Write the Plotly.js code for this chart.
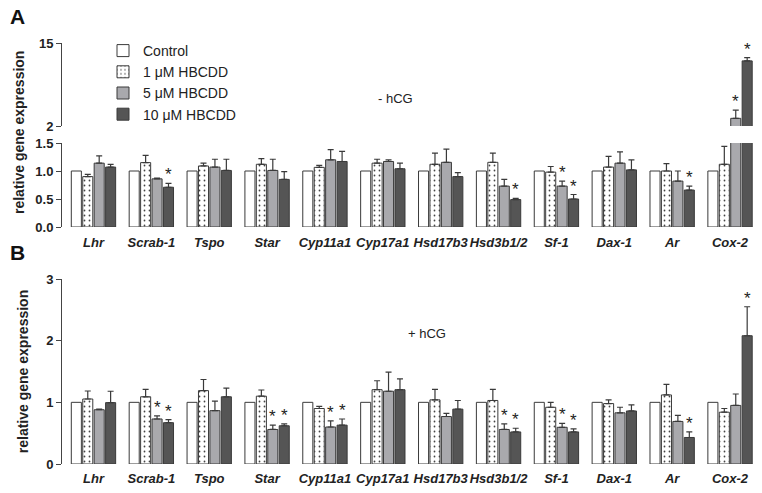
<!DOCTYPE html>
<html>
<head>
<meta charset="utf-8">
<script src="https://cdn.plot.ly/plotly-3.0.1.min.js"></script>
<style>html,body{margin:0;padding:0;background:#fff;}#chart{width:762px;height:493px;}</style>
</head>
<body>
<div id="chart"></div>
<script>
// ---- data ----
const genes = ['Lhr','Scrab-1','Tspo','Star','Cyp11a1','Cyp17a1','Hsd17b3','Hsd3b1/2','Sf-1','Dax-1','Ar','Cox-2'];
const seriesNames = ['Control','1 \u03bcM HBCDD','5 \u03bcM HBCDD','10 \u03bcM HBCDD'];

// Panel A: - hCG
const ctrlA   = [1,1,1,1,1,1,1,1,1,1,1,1];
const m1A     = [0.90,1.15,1.09,1.12,1.065,1.14,1.12,1.155,0.98,1.07,1.00,1.12];
const m1Aerr  = [0.04,0.13,0.05,0.10,0.035,0.07,0.20,0.165,0.10,0.19,0.13,0.32];
const m5A     = [1.14,0.86,1.07,1.01,1.20,1.17,1.155,0.73,0.73,1.14,0.82,3.2];
const m5Aerr  = [0.13,0.015,0.14,0.20,0.18,0.03,0.235,0.12,0.09,0.20,0.18,1.3];
const m10A    = [1.07,0.71,1.01,0.85,1.17,1.04,0.90,0.49,0.50,1.02,0.66,12.2];
const m10Aerr = [0.05,0.07,0.20,0.14,0.18,0.10,0.07,0.02,0.08,0.18,0.07,0.5];
const sig5A   = ['Sf-1','Cox-2'];
const sig10A  = ['Scrab-1','Hsd3b1/2','Sf-1','Ar','Cox-2'];

// Panel B: + hCG
const ctrlB   = [1,1,1,1,1,1,1,1,1,1,1,1];
const m1B     = [1.054,1.09,1.19,1.10,0.90,1.205,1.04,1.03,0.92,0.98,1.12,0.84];
const m1Berr  = [0.13,0.12,0.18,0.10,0.035,0.145,0.17,0.18,0.08,0.06,0.17,0.06];
const m5B     = [0.88,0.73,0.865,0.56,0.60,1.18,0.77,0.56,0.595,0.83,0.69,0.95];
const m5Berr  = [0.01,0.05,0.155,0.07,0.10,0.31,0.05,0.09,0.065,0.09,0.10,0.185];
const m10B    = [0.995,0.67,1.09,0.62,0.63,1.205,0.89,0.52,0.52,0.86,0.43,2.08];
const m10Berr = [0.185,0.05,0.14,0.03,0.10,0.175,0.14,0.06,0.05,0.10,0.09,0.47];
const sig5B   = ['Scrab-1','Star','Cyp11a1','Hsd3b1/2','Sf-1'];
const sig10B  = ['Scrab-1','Star','Cyp11a1','Hsd3b1/2','Sf-1','Ar','Cox-2'];

// ---- styling ----
const FONT = 'Liberation Sans, Arial, sans-serif';
const OUT = '#3a3a3a';
const styles = [
  {color:'#ffffff'},
  {color:'#ffffff', pattern:{shape:'.', fgcolor:'#444', bgcolor:'#ffffff', size:5, solidity:0.1}},
  {color:'#a9a9ad'},
  {color:'#555555'}
];
const BARGAP = 0.21, GROUPGAP = 0.12;
const slot = (1 - BARGAP) / 4;

function bars(idx, y, err, xa, ya, showlegend) {
  const marker = Object.assign({line:{color:OUT, width:1}}, styles[idx]);
  const t = {
    type:'bar', name: seriesNames[idx], x: genes, y: y,
    xaxis: xa, yaxis: ya, marker: marker, showlegend: showlegend,
    legendgroup: 'g'+idx, hoverinfo:'skip'
  };
  if (err) {
    t.error_y = {type:'data', array: err, arrayminus: err.map(()=>0), symmetric:false,
                 color:OUT, thickness:1.2, width:3};
  }
  return t;
}

const data = [];
const setsA = [[ctrlA,null],[m1A,m1Aerr],[m5A,m5Aerr],[m10A,m10Aerr]];
const setsB = [[ctrlB,null],[m1B,m1Berr],[m5B,m5Berr],[m10B,m10Berr]];
setsA.forEach((s,i)=>data.push(bars(i, s[0], s[1], 'x', 'y', true)));
setsA.forEach((s,i)=>data.push(bars(i, s[0], s[1], 'x3', 'y3', false)));
setsB.forEach((s,i)=>data.push(bars(i, s[0], s[1], 'x2', 'y2', false)));

// ---- significance stars ----
const annotations = [];
function stars(sig, vals, errs, idx, panel) {
  sig.forEach(g => {
    const k = genes.indexOf(g);
    const top = vals[k] + errs[k];
    let xref, yref;
    if (panel === 'A') { xref = 'x'; yref = top > 1.5 ? 'y3' : 'y'; }
    else { xref = 'x2'; yref = 'y2'; }
    annotations.push({x: k + (idx - 1.5) * slot, y: top, xref: xref, yref: yref,
      text:'*', showarrow:false, yanchor:'bottom', yshift:-3,
      font:{family:FONT, size:17, color:'#222'}});
  });
}
stars(sig5A, m5A, m5Aerr, 2, 'A');
stars(sig10A, m10A, m10Aerr, 3, 'A');
stars(sig5B, m5B, m5Berr, 2, 'B');
stars(sig10B, m10B, m10Berr, 3, 'B');

// texts
annotations.push({text:'<b>A</b>', xref:'paper', yref:'paper', x:8/762, y:1-16/493, xanchor:'left', yanchor:'middle', showarrow:false, font:{family:FONT, size:21, color:'#111'}});
annotations.push({text:'<b>B</b>', xref:'paper', yref:'paper', x:8/762, y:1-252/493, xanchor:'left', yanchor:'middle', showarrow:false, font:{family:FONT, size:21, color:'#111'}});
annotations.push({text:'- hCG', xref:'paper', yref:'paper', x:395/762, y:1-98/493, xanchor:'center', yanchor:'middle', showarrow:false, font:{family:FONT, size:13, color:'#222'}});
annotations.push({text:'+ hCG', xref:'paper', yref:'paper', x:427/762, y:1-333/493, xanchor:'center', yanchor:'middle', showarrow:false, font:{family:FONT, size:13, color:'#222'}});
annotations.push({text:'<b>relative gene expression</b>', xref:'paper', yref:'paper', x:19/762, y:1-133/493, textangle:-90, xanchor:'center', yanchor:'middle', showarrow:false, font:{family:FONT, size:14, color:'#222'}});

const XR = [-0.544, 11.466];
const XD = [62/762, 757/762];
const tickFontX = {family:FONT, size:13, color:'#222', weight:'bold', style:'italic'};
const tickFontY = {family:FONT, size:13, color:'#222', weight:'bold'};
const yCommon = {showline:true, linecolor:'#444', linewidth:1, ticks:'outside', ticklen:5, tickcolor:'#444',
                 showgrid:false, zeroline:false, tickfont:tickFontY, fixedrange:true};

const layout = {
  width:762, height:493,
  margin:{l:0, r:0, t:0, b:0},
  paper_bgcolor:'#fff', plot_bgcolor:'rgba(0,0,0,0)',
  barmode:'group', bargap:BARGAP, bargroupgap:GROUPGAP,
  showlegend:true,
  legend:{x:103/762, y:1-35/493, xanchor:'left', yanchor:'top', bgcolor:'rgba(0,0,0,0)',
          font:{family:FONT, size:14, color:'#222'}, tracegroupgap:0},
  xaxis:{domain:XD, anchor:'y', type:'category', range:XR, showline:false, ticks:'', showgrid:false,
         tickfont:tickFontX, ticklabelstandoff:6, tickangle:0},
  yaxis:Object.assign({domain:[1-227/493, 1-143/493], anchor:'x', range:[0,1.5], tickvals:[0,0.5,1,1.5], tickformat:'.1f'}, yCommon),
  xaxis3:{domain:XD, anchor:'y3', type:'category', range:XR, matches:'x', visible:false},
  yaxis3:Object.assign({domain:[1-126/493, 1-43/493], anchor:'x3', range:[2,15], tickvals:[2,15]}, yCommon),
  xaxis2:{domain:XD, anchor:'y2', type:'category', range:XR, showline:false, ticks:'', showgrid:false,
          tickfont:tickFontX, ticklabelstandoff:5, tickangle:0},
  yaxis2:Object.assign({domain:[1-464/493, 1-279/493], anchor:'x2', range:[0,3], tickvals:[0,1,2,3],
          title:{text:'<b>relative gene expression</b>', font:{family:FONT, size:14, color:'#222'}, standoff:14}}, yCommon),
  annotations:annotations
};

Plotly.newPlot('chart', data, layout, {displayModeBar:false, staticPlot:true});
</script>
</body>
</html>
